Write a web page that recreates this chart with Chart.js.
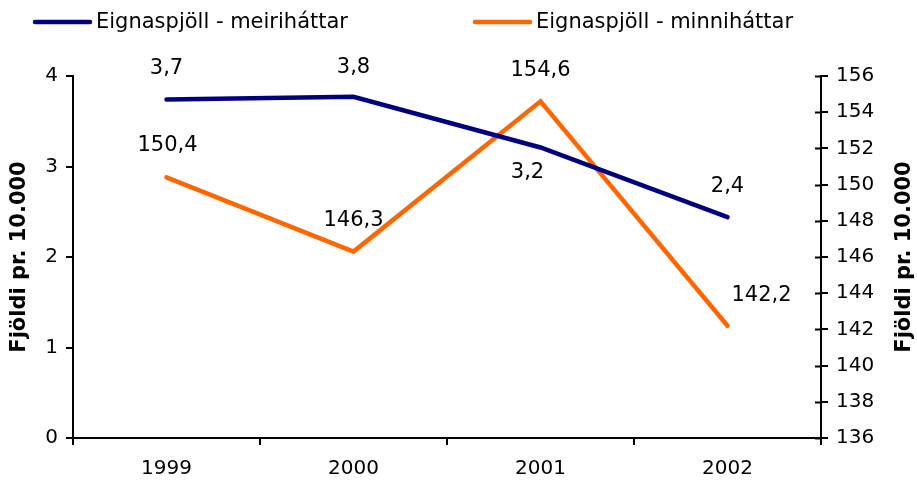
<!DOCTYPE html>
<html>
<head>
<meta charset="utf-8">
<script src="https://cdn.jsdelivr.net/npm/chart.js@4"></script>
<style>
  html, body { margin: 0; padding: 0; background: #fff; }
  #wrap { width: 917px; height: 482px; }
</style>
</head>
<body>
<div id="wrap"><canvas id="chart_1" width="917" height="482"></canvas></div>
<script>
const years = ['1999', '2000', '2001', '2002'];
const meiri = [3.74, 3.77, 3.21, 2.44];
const minni = [150.4, 146.3, 154.6, 142.2];
const meiriLabels = ['3,7', '3,8', '3,2', '2,4'];
const minniLabels = ['150,4', '146,3', '154,6', '142,2'];
const axisTitle = 'Fjöldi pr. 10.000';

const FONT = 'DejaVu Sans';
Chart.defaults.font.family = FONT;
Chart.defaults.font.size = 20;
Chart.defaults.color = '#000';

// label offsets (dx, dy) from each point
const meiriOffsets = [[0, -31], [0, -29], [-13, 25], [0, -31]];
const minniOffsets = [[1, -32], [0, -31], [0, -31], [34, -30]];

const extras = {
    id: 'extras',
    afterDatasetsDraw(chart) {
        const ctx = chart.ctx;
        ctx.save();
        ctx.font = '21px ' + FONT;
        ctx.fillStyle = '#000';
        ctx.textAlign = 'center';
        ctx.textBaseline = 'middle';
        const sets = [[meiriLabels, meiriOffsets], [minniLabels, minniOffsets]];
        sets.forEach(([labels, offs], di) => {
            chart.getDatasetMeta(di).data.forEach((pt, i) => {
                ctx.fillText(labels[i], pt.x + offs[i][0], pt.y + offs[i][1]);
            });
        });

        // legend
        const legendX = [35, 475];
        chart.data.datasets.forEach((ds, i) => {
            ctx.strokeStyle = ds.borderColor;
            ctx.lineWidth = 4.5;
            ctx.lineCap = 'round';
            ctx.beginPath();
            ctx.moveTo(legendX[i], 22);
            ctx.lineTo(legendX[i] + 55, 22);
            ctx.stroke();
            ctx.textAlign = 'left';
            ctx.fillText(ds.label, legendX[i] + 61, 23);
        });

        // axis titles, both reading bottom to top
        const a = chart.chartArea;
        ctx.font = 'bold 21px ' + FONT;
        ctx.textAlign = 'center';
        [20, 905].forEach(x => {
            ctx.save();
            ctx.translate(x, (a.top + a.bottom) / 2);
            ctx.rotate(-Math.PI / 2);
            ctx.fillText(axisTitle, 0, 0);
            ctx.restore();
        });

        // inner half of right axis ticks
        const yR = chart.scales.yR;
        ctx.strokeStyle = '#000';
        ctx.lineWidth = 2;
        ctx.lineCap = 'butt';
        yR.ticks.forEach(t => {
            const y = Math.round(yR.getPixelForValue(t.value)) + 0.5;
            ctx.beginPath();
            ctx.moveTo(a.right - 6, y);
            ctx.lineTo(a.right, y);
            ctx.stroke();
        });
        ctx.restore();
    }
};

new Chart(
    document.getElementById('chart_1'),
    {
        type: 'line',
        data: {
            labels: years,
            datasets: [
                {
                    label: 'Eignaspjöll - meiriháttar',
                    data: meiri,
                    borderColor: '#000080',
                    backgroundColor: '#000080',
                    borderWidth: 4.5,
                    borderCapStyle: 'round',
                    pointRadius: 0,
                    tension: 0,
                    yAxisID: 'y'
                },
                {
                    label: 'Eignaspjöll - minniháttar',
                    data: minni,
                    borderColor: '#FF6600',
                    backgroundColor: '#FF6600',
                    borderWidth: 4.5,
                    borderCapStyle: 'round',
                    pointRadius: 0,
                    tension: 0,
                    yAxisID: 'yR'
                }
            ]
        },
        options: {
            responsive: false,
            animation: false,
            layout: { padding: { top: 76, left: 0, right: 0, bottom: 0 } },
            plugins: {
                legend: { display: false },
                tooltip: { enabled: false }
            },
            scales: {
                x: {
                    offset: true,
                    grid: { offset: true, drawOnChartArea: false, color: '#000', lineWidth: 2, tickLength: 7, tickColor: '#000' },
                    border: { color: '#000', width: 2 },
                    ticks: { padding: 12 },
                    afterFit(s) { s.height = 44; }
                },
                y: {
                    position: 'left',
                    min: 0,
                    max: 4,
                    ticks: { stepSize: 1, padding: 8 },
                    grid: { drawOnChartArea: false, color: '#000', lineWidth: 2, tickLength: 7 },
                    border: { color: '#000', width: 2 },
                    afterFit(s) { s.width = 73; }
                },
                yR: {
                    position: 'right',
                    min: 136,
                    max: 156,
                    ticks: { stepSize: 2, padding: 8 },
                    grid: { drawOnChartArea: false, color: '#000', lineWidth: 2, tickLength: 7 },
                    border: { color: '#000', width: 2 },
                    afterFit(s) { s.width = 96; }
                }
            }
        },
        plugins: [extras]
    }
);
</script>
</body>
</html>
